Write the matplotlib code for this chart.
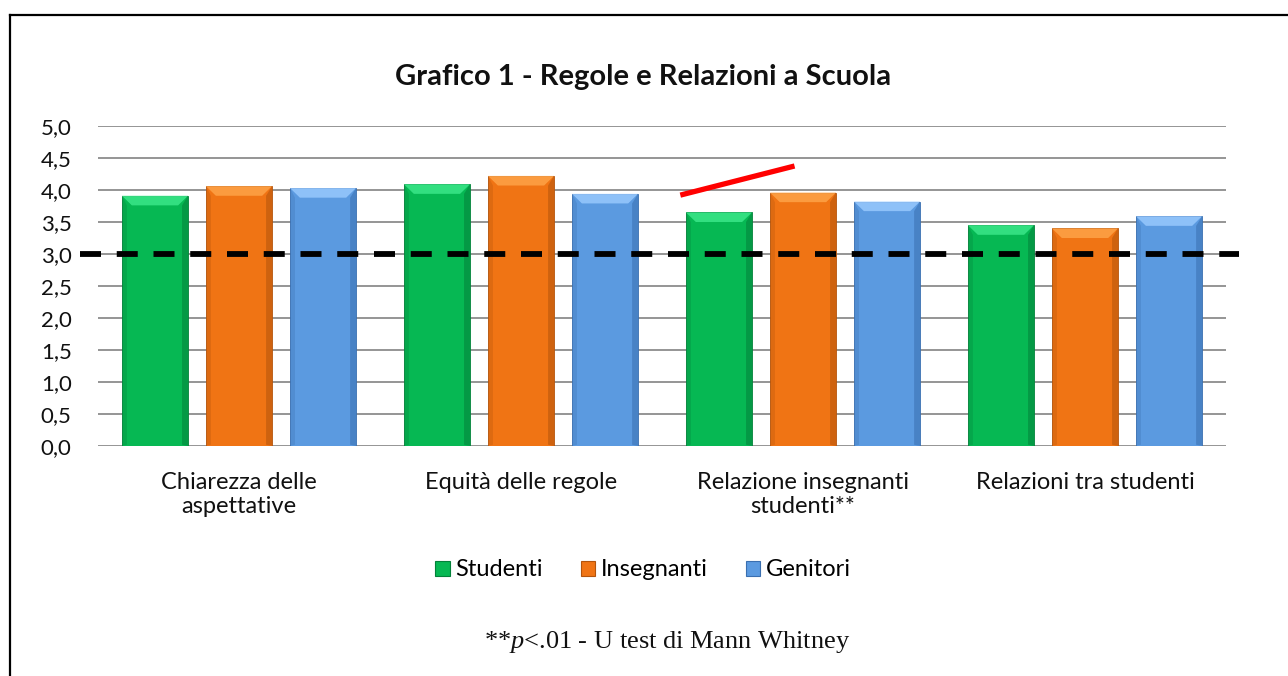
import numpy as np
import matplotlib
matplotlib.use('Agg')
import matplotlib.pyplot as plt
from matplotlib.patches import Polygon, Rectangle
from matplotlib.lines import Line2D

# --- Data ---
categories = ["Chiarezza delle\naspettative", "Equità delle regole",
              "Relazione insegnanti\nstudenti**", "Relazioni tra studenti"]
series_names = ["Studenti", "Insegnanti", "Genitori"]
studenti = [3.91, 4.09, 3.65, 3.45]
insegnanti = [4.06, 4.22, 3.96, 3.40]
genitori = [4.03, 3.94, 3.82, 3.59]
yticks = [0.0, 0.5, 1.0, 1.5, 2.0, 2.5, 3.0, 3.5, 4.0, 4.5, 5.0]
ytick_labels = ["0,0", "0,5", "1,0", "1,5", "2,0", "2,5", "3,0", "3,5", "4,0", "4,5", "5,0"]
reference_value = 3.0
# red significance stroke over the third group (category units, value units)
sig_x = [1.565, 1.97]
sig_y = [3.92, 4.375]

colors = ["#06B853", "#F07414", "#5B9AE0"]
light = ["#3EEA8C", "#FFA64A", "#9BCBFF"]
dark = ["#03813A", "#B3540C", "#3A6FB0"]

plt.rcParams['font.family'] = ['Lato', 'DejaVu Sans']
plt.rcParams['mathtext.fontset'] = 'custom'
plt.rcParams['mathtext.it'] = 'Liberation Serif:italic'
plt.rcParams['mathtext.rm'] = 'Liberation Serif'

fig = plt.figure(figsize=(12.88, 6.76), dpi=100)
ax = fig.add_axes([98 / 1288, 1 - 446 / 676, 1128 / 1288, 320 / 676])

x = np.arange(len(categories))
offset = 0.298
width = 0.234
values = [studenti, insegnanti, genitori]

# bevel sizes in data units
bx = 0.035
by = 0.15
for i, vals in enumerate(values):
    xs = x + (i - 1) * offset
    bars = ax.bar(xs, vals, width=width, color=colors[i], zorder=3,
                  edgecolor=dark[i], linewidth=0.6)
    for b in bars:
        x0, y1 = b.get_x(), b.get_height()
        x1 = x0 + b.get_width()
        # top highlight
        ax.add_patch(Polygon([(x0, y1), (x1, y1), (x1 - bx, y1 - by), (x0 + bx, y1 - by)],
                             closed=True, facecolor=light[i], edgecolor='none', zorder=4, alpha=0.8))
        # right shade
        ax.add_patch(Polygon([(x1, y1), (x1, 0), (x1 - bx * 0.6, 0.02), (x1 - bx * 0.6, y1 - by)],
                             closed=True, facecolor=dark[i], edgecolor='none', zorder=4, alpha=0.55))
        # left shade
        ax.add_patch(Polygon([(x0, y1), (x0, 0), (x0 + bx * 0.5, 0.02), (x0 + bx * 0.5, y1 - by)],
                             closed=True, facecolor=dark[i], edgecolor='none', zorder=4, alpha=0.3))

ax.set_xlim(-0.5, len(categories) - 0.5)
ax.set_ylim(0, 5)
ax.set_yticks(yticks)
ax.set_yticklabels(ytick_labels)
ax.set_xticks(x)
ax.set_xticklabels(categories, linespacing=1.15)
ax.tick_params(axis='both', length=0, colors='#111111')
ax.tick_params(axis='y', pad=19, labelsize=16)
ax.tick_params(axis='x', pad=19, labelsize=17)
ax.yaxis.grid(True, color='#8C8C8C', linewidth=1.3, zorder=0)
ax.set_axisbelow(True)
for s in ax.spines.values():
    s.set_visible(False)

# reference dashed line (extends slightly beyond the plot area)
ax.plot([-0.565, 3.545], [reference_value, reference_value], color='black',
        linewidth=4.2, dashes=(3.6, 2.7), zorder=6, clip_on=False)

# red annotation stroke
ax.plot(sig_x, sig_y, color='#FF0000', linewidth=3.8, solid_capstyle='butt',
        zorder=7, clip_on=False)

fig.text(643 / 1288, 1 - 77 / 676, "Grafico 1 - Regole e Relazioni a Scuola",
         ha='center', va='center', fontsize=21, fontweight='bold', color='#111111')

handles = [Rectangle((0, 0), 1, 1, facecolor=colors[i], edgecolor=dark[i], linewidth=0.8)
           for i in range(3)]
fig.legend(handles, series_names, loc='center', bbox_to_anchor=(643 / 1288, 1 - 570 / 676),
           ncol=3, frameon=False, fontsize=17, handlelength=0.6, handleheight=0.6,
           handletextpad=0.25, columnspacing=1.6)

fig.text(667 / 1288, 1 - 642 / 676, r"**$\mathit{p}$<.01 - U test di Mann Whitney",
         ha='center', va='center', fontsize=19, family='Liberation Serif', color='#111111')

# outer frame (left and top edges visible)
fig.add_artist(Line2D([10 / 1288, 10 / 1288], [0, 1 - 15 / 676], color='black',
                      linewidth=1.6, transform=fig.transFigure))
fig.add_artist(Line2D([10 / 1288, 1], [1 - 15 / 676, 1 - 15 / 676], color='black',
                      linewidth=1.6, transform=fig.transFigure))

fig.savefig("out.png", dpi=100, facecolor='white')
